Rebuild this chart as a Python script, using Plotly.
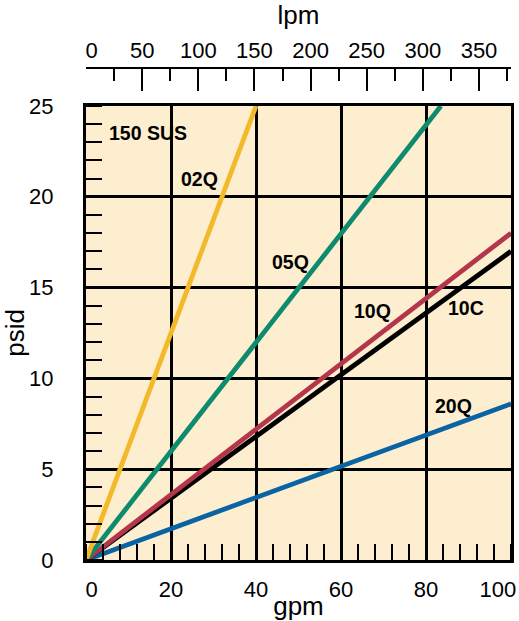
import plotly.graph_objects as go

# pressure drop curves, 150 SUS
gpm_02q = [0, 40]
psid_02q = [0, 25]
gpm_05q = [0, 83.5]
psid_05q = [0, 25]
gpm_10q = [0, 100]
psid_10q = [0, 18]
gpm_10c = [0, 100]
psid_10c = [0, 17]
gpm_20q = [0, 100]
psid_20q = [0, 8.6]

gpm_ticks = [0, 20, 40, 60, 80, 100]
gpm_text = ["\u20020", "20", "40", "60", "80", "100\u2003\u2009"]
psid_ticks = [0, 5, 10, 15, 20, 25]
lpm_ticks = [0, 50, 100, 150, 200, 250, 300, 350]
lpm_text = ["\u20020", "50", "100", "150", "200", "250", "300", "350"]
lpm_max = 378.5

labels = ["150 SUS", "02Q", "05Q", "10Q", "10C", "20Q"]
label_x = [4.9, 26.8, 48, 67.5, 89.4, 86.4]
label_y = [23.5, 21.0, 16.4, 13.7, 13.85, 8.5]

font = "Liberation Sans, Arial, sans-serif"

fig = go.Figure()
series = [
    (gpm_20q, psid_20q, "#0A64A4"),
    (gpm_10c, psid_10c, "#000000"),
    (gpm_10q, psid_10q, "#B5364B"),
    (gpm_05q, psid_05q, "#0E8A6E"),
    (gpm_02q, psid_02q, "#F4B92A"),
]
for xs, ys, c in series:
    fig.add_trace(go.Scatter(x=xs, y=ys, mode="lines",
                             line=dict(color=c, width=4.8),
                             showlegend=False, hoverinfo="skip"))

# dummy trace so the lpm axis is drawn
fig.add_trace(go.Scatter(x=[0, lpm_max], y=[0, 0], xaxis="x2", mode="lines",
                         line=dict(width=0), showlegend=False, hoverinfo="skip"))

for t, x, y in zip(labels, label_x, label_y):
    fig.add_annotation(x=x, y=y, text="<b>%s</b>" % t, showarrow=False,
                       xanchor="left" if t == "150 SUS" else "center",
                       font=dict(family=font, size=19.5, color="black"))

fig.update_layout(
    width=519, height=621,
    margin=dict(l=86, r=8, t=68, b=61),
    paper_bgcolor="white",
    plot_bgcolor="#FDEECF",
    font=dict(family=font, size=22, color="black"),
    xaxis=dict(
        range=[0, 100], tickvals=gpm_ticks, ticktext=gpm_text, ticks="",
        automargin=False, ticklabeloverflow="allow", ticklabelstandoff=8,
        showline=True, mirror=True, linecolor="black", linewidth=3,
        showgrid=True, gridcolor="black", gridwidth=2.5, zeroline=False,
        minor=dict(ticks="inside", dtick=4, ticklen=16, tickwidth=1.5,
                   tickcolor="black", showgrid=False),
        title=dict(text="gpm", standoff=0),
        tickfont=dict(size=22),
    ),
    yaxis=dict(
        range=[0, 25], tickvals=psid_ticks, ticks="", domain=[0, 0.9228],
        automargin=False, ticklabeloverflow="allow", ticklabelstandoff=25,
        showline=True, mirror=True, linecolor="black", linewidth=3,
        showgrid=True, gridcolor="black", gridwidth=2.5, zeroline=False,
        minor=dict(ticks="inside", dtick=1, ticklen=16, tickwidth=1.5,
                   tickcolor="black", showgrid=False),
        title=dict(text="psid", standoff=2),
        tickfont=dict(size=22),
    ),
    xaxis2=dict(
        range=[0, lpm_max], tickvals=lpm_ticks, ticktext=lpm_text,
        overlaying="x", side="top", anchor="free", position=1,
        automargin=False, ticklabeloverflow="allow",
        ticks="inside", ticklen=22, tickwidth=1.5, tickcolor="black",
        showline=True, linecolor="black", linewidth=1.5,
        showgrid=False, zeroline=False,
        minor=dict(ticks="inside", dtick=25, ticklen=12, tickwidth=1.5,
                   tickcolor="black", showgrid=False),
        title=dict(text="lpm", standoff=8),
        tickfont=dict(size=22),
    ),
)

# drop the browser's default 8px body margin
fig.write_html("out.html", config={"displayModeBar": False},
               post_script="document.body.style.margin='0';")
